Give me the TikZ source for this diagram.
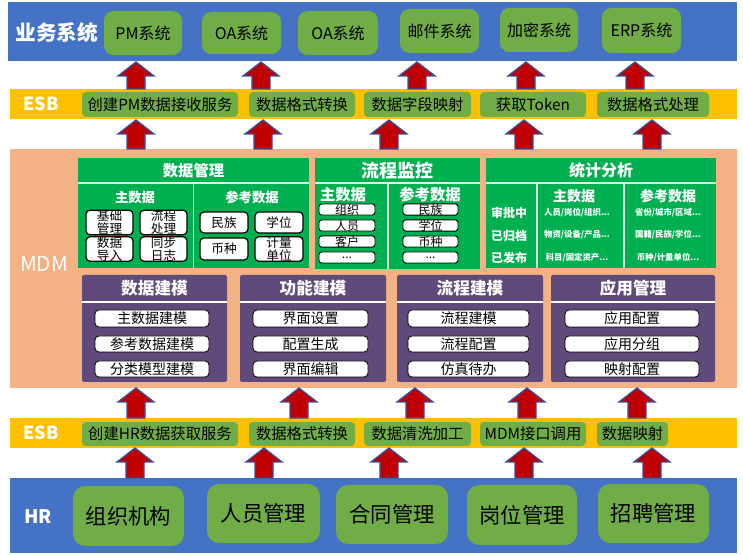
\documentclass[tikz,border=0pt]{standalone}
\usepackage{fontspec}
\setmainfont{Noto Sans CJK SC}
\definecolor{cblue}{HTML}{4472C4}
\definecolor{cgl}{HTML}{70AD47}
\definecolor{cyel}{HTML}{FFC000}
\definecolor{corg}{HTML}{F4B183}
\definecolor{cgrn}{HTML}{00B050}
\definecolor{cpur}{HTML}{604A7B}
\definecolor{cred}{HTML}{C00000}
\definecolor{carb}{HTML}{3A4F9A}
\newcommand\fsz[1]{\fontsize{#1}{#1}\selectfont}
\newcommand\fszz[2]{\fontsize{#1}{#2}\selectfont}
\newcommand\mkbox[7]{\node[#6,minimum width={(#4-#2)*0.75pt},minimum height={(#5-#3)*0.75pt}] (#1) at ({(#2+#4)/2},{(#3+#5)/2}) {#7};}
\newcommand\blockarrow[3]{\draw[barrow] (#1,#2) -- (#1+18,#2+14) -- (#1+9,#2+14) -- (#1+9,#3) -- (#1-9,#3) -- (#1-9,#2+14) -- (#1-18,#2+14) -- cycle;}
\tikzset{
  base/.style={inner sep=0pt,outer sep=0pt,draw=none},
  band/.style={base},
  blab/.style={text=white,font=\bfseries\fsz{14}},
  topbox/.style={base,fill=cgl,rounded corners=7pt,font=\fsz{12}},
  esbbox/.style={base,fill=cgl,rounded corners=3pt,font=\fsz{11.5}},
  hrbox/.style={base,fill=cgl,rounded corners=9pt,font=\fsz{16}},
  gpanel/.style={base,fill=cgrn},
  ppanel/.style={base,fill=cpur,rounded corners=1.5pt},
  ttl/.style={base,text=white,font=\bfseries\fsz{11.5}},
  sub/.style={text=white,inner sep=0pt,font=\bfseries\fsz{10}},
  item/.style={base,draw=black,fill=white,line width=0.9pt,rounded corners=3pt,font=\fsz{9.5},align=center},
  item2/.style={item,font={\fszz{9.5}{8.3}}},
  litem/.style={item,line width=0.7pt,rounded corners=2pt,font=\fsz{9}},
  pitem/.style={base,draw=black,fill=white,line width=0.6pt,rounded corners=3pt,font=\fsz{10.5}},
  tiny/.style={text=white,inner sep=0pt,font=\bfseries\fsz{6.3}},
  divw/.style={draw=white!85!cgrn,line width=0.8pt},
  barrow/.style={fill=cred,draw=carb,line width=1pt,line join=miter},
}
\begin{document}
\begin{tikzpicture}[x=0.75pt,y=-0.75pt]
\useasboundingbox[fill=white] (0,0) rectangle (743,555);
% ---------- top band
\mkbox{top}{8}{2}{737}{61}{band,fill=cblue}{}
\node[blab,font=\bfseries\fsz{15.5}] (toplab) at (57,33) {业务系统};
\mkbox{t1}{104}{11}{182}{55}{topbox}{PM系统}
\mkbox{t2}{202}{12}{281}{54}{topbox}{OA系统}
\mkbox{t3}{298}{11}{378}{55}{topbox}{OA系统}
\mkbox{t4}{400}{9}{479}{53}{topbox}{邮件系统}
\mkbox{t5}{500}{8}{578}{52}{topbox}{加密系统}
\mkbox{t6}{602}{8}{681}{53}{topbox}{ERP系统}
% ---------- ESB 1
\mkbox{esbA}{10}{89}{737}{119}{band,fill=cyel}{}
\node[blab,font=\bfseries\fsz{13.5}] (esbAlab) at (41,104) {ESB};
\mkbox{a1}{82}{92}{238}{117}{esbbox}{创建PM数据接收服务}
\mkbox{a2}{249}{92}{355}{117}{esbbox}{数据格式转换}
\mkbox{a3}{364}{92}{471}{117}{esbbox}{数据字段映射}
\mkbox{a4}{480}{92}{586}{117}{esbbox}{获取Token}
\mkbox{a5}{597}{92}{709}{117}{esbbox}{数据格式处理}
% ---------- MDM
\mkbox{mdm}{10}{149}{737}{388}{band,fill=corg}{}
\node[text=white,font=\fsz{15.5}] (mdmlab) at (44,264) {MDM};
% panel 1
\mkbox{dm}{78}{158}{309}{268}{gpanel}{}
\mkbox{dmt}{78}{158}{309}{183}{ttl}{数据管理}
\draw[divw] (dmt.south west) -- (dmt.south east);
\draw[divw] (dmt.south) -- (dm.south);
\node[sub] (dms1) at (135,197) {主数据};
\node[sub] (dms2) at (252,197) {参考数据};
\mkbox{dmi1}{86}{212}{133}{233}{item2}{基础\\管理}
\mkbox{dmi2}{140}{212}{187}{233}{item2}{流程\\处理}
\mkbox{dmi3}{86}{238}{133}{260}{item2}{数据\\导入}
\mkbox{dmi4}{140}{238}{187}{260}{item2}{同步\\日志}
\mkbox{dmi5}{200}{212}{248}{233}{item}{民族}
\mkbox{dmi6}{255}{212}{303}{233}{item}{学位}
\mkbox{dmi7}{200}{238}{248}{260}{item}{币种}
\mkbox{dmi8}{255}{238}{303}{260}{item2}{计量\\单位}
% panel 2
\mkbox{lc}{315}{158}{480}{269}{gpanel}{}
\mkbox{lct}{315}{158}{480}{183}{ttl,font=\bfseries\fsz{13.5}}{流程监控}
\draw[divw] (lct.south west) -- (lct.south east);
\draw[divw] (388,183) -- (388,269);
\node[sub,font=\bfseries\fsz{11.5}] (lcs1) at (343,195) {主数据};
\node[sub,font=\bfseries\fsz{11.5}] (lcs2) at (430,195) {参考数据};
\mkbox{lci1}{319}{204}{375}{215}{litem}{组织}
\mkbox{lci2}{319}{220}{375}{231}{litem}{人员}
\mkbox{lci3}{319}{236}{375}{247}{litem}{客户}
\mkbox{lci4}{319}{252}{375}{263}{litem}{...}
\mkbox{lci5}{403}{204}{458}{215}{litem}{民族}
\mkbox{lci6}{403}{220}{458}{231}{litem}{学位}
\mkbox{lci7}{403}{236}{458}{247}{litem}{币种}
\mkbox{lci8}{403}{252}{458}{263}{litem}{...}
% panel 3
\mkbox{tj}{486}{158}{716}{268}{gpanel}{}
\mkbox{tjt}{486}{158}{716}{183}{ttl,font=\bfseries\fsz{12}}{统计分析}
\draw[divw] (tjt.south west) -- (tjt.south east);
\draw[divw] (537,183) -- (537,268);
\draw[divw] (624,183) -- (624,268);
\node[sub,font=\bfseries\fsz{10.5}] (tjs1) at (574,196) {主数据};
\node[sub,font=\bfseries\fsz{10.5}] (tjs2) at (668,196) {参考数据};
\node[sub,font=\bfseries\fsz{9}] (tjr1) at (509,213) {审批中};
\node[sub,font=\bfseries\fsz{9}] (tjr2) at (509,236) {已归档};
\node[sub,font=\bfseries\fsz{9}] (tjr3) at (509,258) {已发布};
\node[tiny] (tjm1) at (577,213) {人员/岗位/组织...};
\node[tiny] (tjm2) at (577,235) {物资/设备/产品...};
\node[tiny] (tjm3) at (577,258) {科目/固定资产...};
\node[tiny] (tjc1) at (668,213) {省份/城市/区域...};
\node[tiny] (tjc2) at (668,235) {国籍/民族/学位...};
\node[tiny] (tjc3) at (668,258) {币种/计量单位...};
% purple panels
\mkbox{q1}{82}{275}{227}{382}{ppanel}{}
\mkbox{q1t}{82}{275}{227}{302}{ttl,font=\bfseries\fsz{12.5}}{数据建模}
\draw[white,line width=0.8pt] (q1t.south west) -- (q1t.south east);
\mkbox{q1a}{95}{310}{209}{327}{pitem}{主数据建模}
\mkbox{q1b}{95}{336}{209}{352}{pitem}{参考数据建模}
\mkbox{q1c}{95}{361}{209}{377}{pitem}{分类模型建模}
\mkbox{q2}{240}{275}{386}{382}{ppanel}{}
\mkbox{q2t}{240}{275}{386}{302}{ttl,font=\bfseries\fsz{12.5}}{功能建模}
\draw[white,line width=0.8pt] (q2t.south west) -- (q2t.south east);
\mkbox{q2a}{253}{310}{368}{327}{pitem}{界面设置}
\mkbox{q2b}{253}{336}{368}{352}{pitem}{配置生成}
\mkbox{q2c}{253}{361}{368}{377}{pitem}{界面编辑}
\mkbox{q3}{397}{275}{543}{382}{ppanel}{}
\mkbox{q3t}{397}{275}{543}{302}{ttl,font=\bfseries\fsz{12.5}}{流程建模}
\draw[white,line width=0.8pt] (q3t.south west) -- (q3t.south east);
\mkbox{q3a}{408}{310}{529}{327}{pitem}{流程建模}
\mkbox{q3b}{408}{336}{529}{352}{pitem}{流程配置}
\mkbox{q3c}{408}{361}{529}{377}{pitem}{仿真待办}
\mkbox{q4}{551}{275}{715}{382}{ppanel}{}
\mkbox{q4t}{551}{275}{715}{302}{ttl,font=\bfseries\fsz{12.5}}{应用管理}
\draw[white,line width=0.8pt] (q4t.south west) -- (q4t.south east);
\mkbox{q4a}{565}{310}{699}{327}{pitem}{应用配置}
\mkbox{q4b}{565}{336}{699}{352}{pitem}{应用分组}
\mkbox{q4c}{565}{361}{699}{377}{pitem}{映射配置}
% ---------- ESB 2
\mkbox{esbB}{10}{418}{737}{448}{band,fill=cyel}{}
\node[blab,font=\bfseries\fsz{13.5}] (esbBlab) at (41,433) {ESB};
\mkbox{b1}{82}{422}{238}{446}{esbbox}{创建HR数据获取服务}
\mkbox{b2}{249}{422}{355}{446}{esbbox}{数据格式转换}
\mkbox{b3}{364}{422}{471}{446}{esbbox}{数据清洗加工}
\mkbox{b4}{480}{422}{586}{446}{esbbox}{MDM接口调用}
\mkbox{b5}{597}{422}{668}{446}{esbbox}{数据映射}
% ---------- HR
\mkbox{hr}{10}{478}{737}{553}{band,fill=cblue}{}
\node[blab,font=\bfseries\fsz{14}] (hrlab) at (38,517) {HR};
\mkbox{h1}{73}{486}{184}{546}{hrbox}{组织机构}
\mkbox{h2}{207}{484}{320}{543}{hrbox}{人员管理}
\mkbox{h3}{336}{485}{448}{544}{hrbox}{合同管理}
\mkbox{h4}{467}{485}{577}{545}{hrbox}{岗位管理}
\mkbox{h5}{598}{484}{709}{543}{hrbox}{招聘管理}
% ---------- arrows
\foreach \xx in {136,261,417,526,635} {\blockarrow{\xx}{62}{89}}
\foreach \xx in {136,263,389,524,652} {\blockarrow{\xx}{120}{149}}
\foreach \xx in {136,299,415,527,637} {\blockarrow{\xx}{388}{418}}
\foreach \xx in {135,264,389,524,652} {\blockarrow{\xx}{448}{478}}
\end{tikzpicture}
\end{document}
